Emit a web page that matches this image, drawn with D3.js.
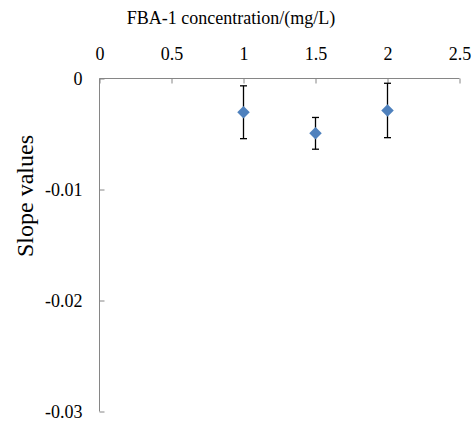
<!DOCTYPE html>
<html><head><meta charset="utf-8">
<script src="https://cdn.jsdelivr.net/npm/d3@7"></script>
<style>body{margin:0;background:#fff}svg text{font-family:"Liberation Serif","Times New Roman",serif !important;fill:#000}</style>
</head><body><svg id="c" width="476" height="427"></svg>
<script>
const concentrations = [1, 1.5, 2];
const slopeValues = [-0.00304, -0.00494, -0.00288];
const errorValues = [0.00238, 0.00143, 0.00245];
const xTicks = [0, 0.5, 1, 1.5, 2, 2.5];
const yTicks = [0, -0.01, -0.02, -0.03];
const xTitle = "FBA-1 concentration/(mg/L)";
const yTitle = "Slope values";

const svg = d3.select("#c");
const x = d3.scaleLinear().domain([0, 2.5]).range([99.5, 459.5]);
const y = d3.scaleLinear().domain([0, -0.03]).range([78.5, 411.5]);
const axisColor = "#868686";
const serif = "Liberation Serif";

const xAxis = svg.append("g").attr("transform", "translate(0,78.5)")
  .call(d3.axisBottom(x).tickValues(xTicks).tickSize(5).tickFormat(d => String(d)));
xAxis.attr("font-family", serif);
xAxis.select(".domain").attr("stroke", axisColor).attr("d", `M${x(0)},0H${x(2.5)}`);
xAxis.selectAll(".tick line").attr("stroke", axisColor);
xAxis.selectAll(".tick text").style("font-family", serif).attr("font-size", 18).attr("fill", "#000").attr("dy", 0).attr("y", -18.5);

const yAxis = svg.append("g").attr("transform", "translate(99.5,0)")
  .call(d3.axisRight(y).tickValues(yTicks).tickSize(5).tickFormat(d => d === 0 ? "0" : "-" + Math.abs(d).toFixed(2)));
yAxis.attr("font-family", serif);
yAxis.select(".domain").attr("stroke", axisColor).attr("d", `M0,${y(0)}V${y(-0.03)}`);
yAxis.selectAll(".tick line").attr("stroke", axisColor);
yAxis.selectAll(".tick text").style("font-family", serif).attr("font-size", 18).attr("fill", "#000")
  .attr("text-anchor", "end").attr("x", -17).attr("dy", "0.32em");

svg.append("text").attr("x", 231).attr("y", 24).attr("text-anchor", "middle").attr("font-size", 18).text(xTitle);
svg.append("text").attr("transform", "translate(33,196) rotate(-90)").attr("text-anchor", "middle").attr("font-size", 24).text(yTitle);

const pts = concentrations.map((c, i) => ({c, v: slopeValues[i], e: errorValues[i]}));
const eb = svg.append("g").attr("stroke", "#000").attr("stroke-width", 1.3);
pts.forEach(p => {
  const cx = x(p.c), y1 = y(p.v + p.e), y2 = y(p.v - p.e);
  eb.append("line").attr("x1", cx).attr("x2", cx).attr("y1", y1).attr("y2", y2);
  eb.append("line").attr("x1", cx - 3.5).attr("x2", cx + 3.5).attr("y1", y1).attr("y2", y1);
  eb.append("line").attr("x1", cx - 3.5).attr("x2", cx + 3.5).attr("y1", y2).attr("y2", y2);
});
svg.append("g").selectAll("path").data(pts).join("path")
  .attr("d", d3.symbol().type(d3.symbolDiamond2).size(100))
  .attr("transform", d => `translate(${x(d.c)},${y(d.v)})`)
  .attr("fill", "#4F81BD");
</script></body></html>
